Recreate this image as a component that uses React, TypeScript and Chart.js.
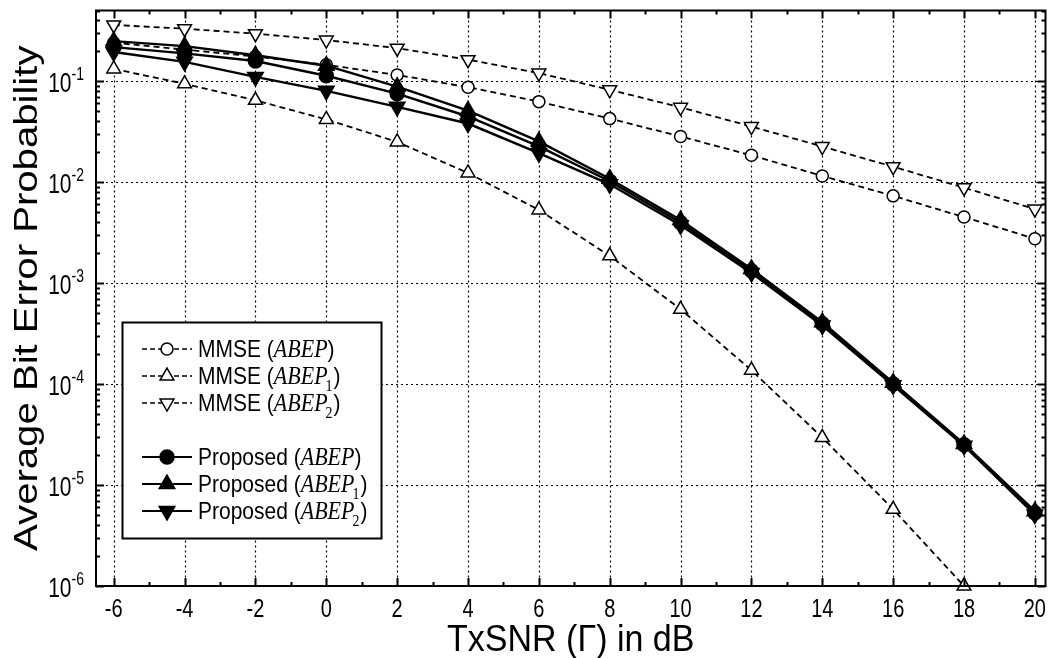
import React, { useEffect, useRef } from "react";
import { Chart, registerables } from "chart.js";

Chart.register(...registerables);

// ---------------- data ----------------
const snrDb = [-6, -4, -2, 0, 2, 4, 6, 8, 10, 12, 14, 16, 18, 20];

const mmseAbep = [0.24, 0.205, 0.175, 0.145, 0.115, 0.087, 0.0626, 0.0425, 0.0283, 0.0184, 0.0115, 0.0073, 0.0045, 0.00275];
const mmseAbep1 = [0.132, 0.094, 0.0645, 0.0417, 0.025, 0.0123, 0.0053, 0.00186, 0.00055, 0.000137, 0.0000295, 0.00000575, 0.000001, null];
const mmseAbep2 = [0.36, 0.33, 0.295, 0.255, 0.212, 0.163, 0.12, 0.082, 0.055, 0.0355, 0.0225, 0.0142, 0.0088, 0.0054];

const propAbep = [0.217, 0.188, 0.158, 0.113, 0.075, 0.0446, 0.0226, 0.0102, 0.00395, 0.00132, 0.000395, 0.0001, 0.000025, 0.0000053];
const propAbep1 = [0.249, 0.222, 0.18, 0.142, 0.088, 0.051, 0.0253, 0.0108, 0.0042, 0.00138, 0.00041, 0.000103, 0.0000255, 0.0000055];
const propAbep2 = [0.194, 0.155, 0.11, 0.08, 0.0556, 0.038, 0.0193, 0.0095, 0.00373, 0.00126, 0.00038, 0.000097, 0.0000245, 0.0000051];

const xTickValues = [-6, -4, -2, 0, 2, 4, 6, 8, 10, 12, 14, 16, 18, 20];
const xTickLabels = ["-6", "-4", "-2", "0", "2", "4", "6", "8", "10", "12", "14", "16", "18", "20"];
const yDecadeExponents = [-6, -5, -4, -3, -2, -1];
const yTickLabelExps = ["-6", "-5", "-4", "-3", "-2", "-1"];

const xTitle = "TxSNR (\u0393) in dB";
const yTitle = "Average Bit Error Probability";

const legendItems = [
  { method: "MMSE", sub: "", marker: "circle", dashed: true, filled: false },
  { method: "MMSE", sub: "1", marker: "up", dashed: true, filled: false },
  { method: "MMSE", sub: "2", marker: "down", dashed: true, filled: false },
  { method: "", sub: "", marker: "", dashed: false, filled: false },
  { method: "Proposed", sub: "", marker: "circle", dashed: false, filled: true },
  { method: "Proposed", sub: "1", marker: "up", dashed: false, filled: true },
  { method: "Proposed", sub: "2", marker: "down", dashed: false, filled: true },
];

// ---------------- styling ----------------
const SANS = '"Liberation Sans", Arial, sans-serif';
const SERIF = '"Liberation Serif", "Times New Roman", serif';
const W = 1056;
const H = 658;
const AREA = { left: 96, right: 1050, top: 5, bottom: 586 };
const STRETCH = 1.3; // vertical stretch of tick text

function drawMarker(ctx: CanvasRenderingContext2D, kind: string, x: number, y: number, r: number, filled: boolean) {
  ctx.save();
  ctx.setLineDash([]);
  ctx.beginPath();
  if (kind === "circle") {
    ctx.arc(x, y, r, 0, Math.PI * 2);
  } else {
    const s = kind === "up" ? 1 : -1;
    const h = Math.sin(Math.PI / 3) * r;
    ctx.moveTo(x, y - s * r);
    ctx.lineTo(x + h, y + s * r / 2);
    ctx.lineTo(x - h, y + s * r / 2);
    ctx.closePath();
  }
  ctx.fillStyle = filled ? "#000" : "#fff";
  ctx.fill();
  ctx.lineWidth = 1.5;
  ctx.strokeStyle = "#000";
  ctx.stroke();
  ctx.restore();
}

function stretchedText(ctx: CanvasRenderingContext2D, text: string, x: number, y: number, font: string, align: CanvasTextAlign, sy: number) {
  ctx.save();
  ctx.translate(x, y);
  ctx.scale(1, sy);
  ctx.font = font;
  ctx.textAlign = align;
  ctx.textBaseline = "alphabetic";
  ctx.fillStyle = "#000";
  ctx.fillText(text, 0, 0);
  ctx.restore();
}

const framePlugin = {
  id: "frameAndLegend",
  beforeDatasetsDraw(chart: any) {
    const { ctx, chartArea: a, scales } = chart;
    const xs = scales.x;
    const ys = scales.y;
    ctx.save();
    ctx.strokeStyle = "#000";
    ctx.lineWidth = 1.2;
    ctx.setLineDash([2, 3]);
    xTickValues.forEach((v) => {
      const px = Math.round(xs.getPixelForValue(v)) + 0.5;
      ctx.beginPath();
      ctx.moveTo(px, a.top);
      ctx.lineTo(px, a.bottom);
      ctx.stroke();
    });
    yDecadeExponents.forEach((e) => {
      const py = Math.round(ys.getPixelForValue(Math.pow(10, e))) + 0.5;
      if (py > a.bottom - 2) return;
      ctx.beginPath();
      ctx.moveTo(a.left, py);
      ctx.lineTo(a.right, py);
      ctx.stroke();
    });
    ctx.restore();
  },
  afterDatasetsDraw(chart: any) {
    const { ctx, chartArea: a, scales } = chart;
    const xs = scales.x;
    const ys = scales.y;
    ctx.save();
    ctx.setLineDash([]);
    ctx.strokeStyle = "#000";
    // ticks
    ctx.lineWidth = 2;
    const tick = (x1: number, y1: number, x2: number, y2: number) => {
      ctx.beginPath();
      ctx.moveTo(x1, y1);
      ctx.lineTo(x2, y2);
      ctx.stroke();
    };
    for (let v = -6; v <= 20; v++) {
      const px = Math.round(xs.getPixelForValue(v)) + 0.5;
      const len = v % 2 === 0 ? 8 : 4;
      tick(px, a.bottom, px, a.bottom - len);
      tick(px, a.top, px, a.top + len);
    }
    for (let e = -6; e <= -1; e++) {
      for (let k = 1; k <= 9; k++) {
        const val = k * Math.pow(10, e);
        if (val > 0.5 + 1e-9) continue;
        const py = Math.round(ys.getPixelForValue(val)) + 0.5;
        const len = k === 1 ? 8 : 4;
        tick(a.left, py, a.left + len, py);
        tick(a.right, py, a.right - len, py);
      }
    }
    // frame
    ctx.lineWidth = 2;
    ctx.strokeRect(a.left, a.top, a.right - a.left, a.bottom - a.top);

    // x tick labels
    xTickValues.forEach((v, i) => {
      const px = xs.getPixelForValue(v);
      stretchedText(ctx, xTickLabels[i], px, 617, `20px ${SANS}`, "center", STRETCH);
    });
    // y tick labels
    yDecadeExponents.forEach((e, i) => {
      const py = ys.getPixelForValue(Math.pow(10, e));
      ctx.font = `14px ${SANS}`;
      const supW = ctx.measureText(yTickLabelExps[i]).width;
      const right = 84;
      stretchedText(ctx, yTickLabelExps[i], right, py - 1, `14px ${SANS}`, "right", STRETCH);
      stretchedText(ctx, "10", right - supW, py + 11, `21px ${SANS}`, "right", STRETCH);
    });
    // axis titles
    stretchedText(ctx, xTitle, (a.left + a.right) / 2, 651, `34px ${SANS}`, "center", 1.1);
    ctx.save();
    ctx.translate(37, (a.top + a.bottom) / 2);
    ctx.rotate(-Math.PI / 2);
    ctx.scale(1.18, 1);
    ctx.font = `34px ${SANS}`;
    ctx.textAlign = "center";
    ctx.textBaseline = "alphabetic";
    ctx.fillStyle = "#000";
    ctx.fillText(yTitle, 0, 0);
    ctx.restore();

    // legend
    const box = { l: 122.5, t: 322.5, r: 381.5, b: 538.5 };
    ctx.fillStyle = "#fff";
    ctx.fillRect(box.l, box.t, box.r - box.l, box.b - box.t);
    ctx.lineWidth = 2;
    ctx.strokeStyle = "#000";
    ctx.strokeRect(box.l, box.t, box.r - box.l, box.b - box.t);
    const rowY0 = 349;
    const rowH = 27;
    legendItems.forEach((it, i) => {
      if (!it.method) return;
      const y = rowY0 + i * rowH;
      const x0 = 142;
      const x1 = 192;
      const xm = (x0 + x1) / 2;
      ctx.save();
      ctx.lineWidth = it.dashed ? 1.6 : 2.2;
      ctx.setLineDash(it.dashed ? [5, 3] : []);
      ctx.beginPath();
      ctx.moveTo(x0, y);
      ctx.lineTo(x1, y);
      ctx.stroke();
      ctx.restore();
      const r = it.marker === "circle" ? (it.filled ? 7 : 6) : it.filled ? 9 : 8;
      drawMarker(ctx, it.marker, xm, y, r, it.filled);
      // text
      let tx = 198;
      const base = y + 8;
      const sy = 1.12;
      ctx.save();
      ctx.translate(0, base);
      ctx.scale(1, sy);
      ctx.fillStyle = "#000";
      ctx.textAlign = "left";
      ctx.textBaseline = "alphabetic";
      ctx.font = `21px ${SANS}`;
      const p1 = `${it.method} (`;
      ctx.fillText(p1, tx, 0);
      tx += ctx.measureText(p1).width;
      ctx.font = `italic 22px ${SERIF}`;
      ctx.fillText("ABEP", tx, 0);
      tx += ctx.measureText("ABEP").width;
      if (it.sub) {
        ctx.font = `14px ${SERIF}`;
        ctx.fillText(it.sub, tx - 2, 6);
        tx += ctx.measureText(it.sub).width - 1;
      }
      ctx.font = `21px ${SANS}`;
      ctx.fillText(")", tx, 0);
      ctx.restore();
    });
    ctx.restore();
  },
};

function makeDataset(label: string, data: (number | null)[], marker: string, dashed: boolean, filled: boolean, order: number) {
  const isTri = marker !== "circle";
  return {
    label,
    data: data.map((v, i) => ({ x: snrDb[i], y: v })),
    borderColor: "#000",
    borderWidth: dashed ? 1.8 : 2.4,
    borderDash: dashed ? [6, 4] : [],
    pointStyle: isTri ? "triangle" : "circle",
    pointRotation: marker === "down" ? 180 : 0,
    pointRadius: isTri ? (filled ? 9 : 8) : filled ? 7 : 6,
    pointBackgroundColor: filled ? "#000" : "#fff",
    pointBorderColor: "#000",
    pointBorderWidth: 1.5,
    fill: false,
    tension: 0,
    spanGaps: false,
    clip: false as const,
    order,
  };
}

export default function App() {
  const canvasRef = useRef<HTMLCanvasElement | null>(null);
  useEffect(() => {
    const canvas = canvasRef.current;
    if (!canvas) return;
    const chart = new Chart(canvas, {
      type: "line",
      data: {
        datasets: [
          makeDataset("MMSE (ABEP)", mmseAbep, "circle", true, false, 6),
          makeDataset("MMSE (ABEP1)", mmseAbep1, "up", true, false, 5),
          makeDataset("MMSE (ABEP2)", mmseAbep2, "down", true, false, 4),
          makeDataset("Proposed (ABEP)", propAbep, "circle", false, true, 3),
          makeDataset("Proposed (ABEP1)", propAbep1, "up", false, true, 2),
          makeDataset("Proposed (ABEP2)", propAbep2, "down", false, true, 1),
        ] as any,
      },
      options: {
        animation: false,
        responsive: false,
        devicePixelRatio: 1,
        layout: {
          padding: { left: AREA.left, right: W - AREA.right, top: AREA.top, bottom: H - AREA.bottom },
        },
        scales: {
          x: { type: "linear", min: -6.5, max: 20.3, display: false },
          y: { type: "logarithmic", min: 1e-6, max: 0.5, display: false },
        },
        plugins: {
          legend: { display: false },
          tooltip: { enabled: false },
        },
      },
      plugins: [framePlugin],
    });
    return () => chart.destroy();
  }, []);
  return (
    <div style={{ position: "fixed", left: 0, top: 0, width: W, height: H, background: "#fff" }}>
      <canvas ref={canvasRef} width={W} height={H} style={{ display: "block" }} />
    </div>
  );
}
